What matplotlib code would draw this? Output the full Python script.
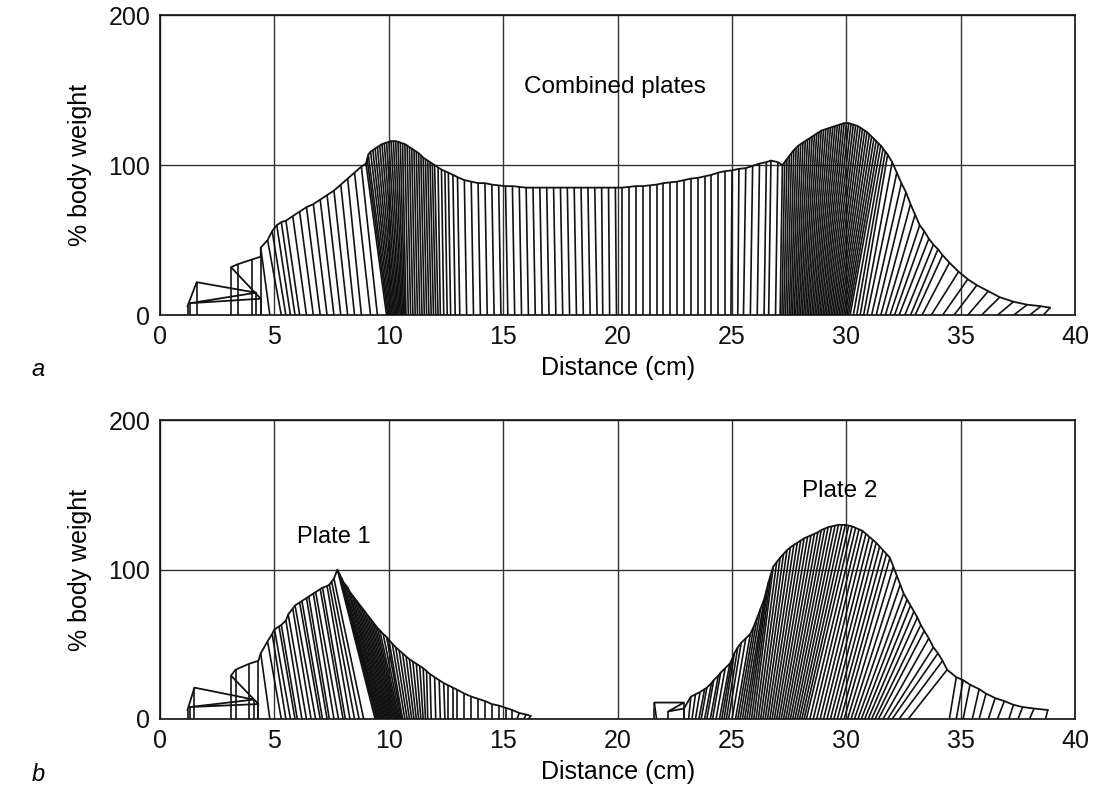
import matplotlib
matplotlib.use('Agg')
import matplotlib.pyplot as plt
from matplotlib.collections import LineCollection

plt.rcParams['font.family'] = ['Liberation Sans', 'DejaVu Sans']

# each force vector: base at centre of pressure (x, 0), tip at (tip x, % body weight)

# ---- panel a: combined plates ----
a_tip = [1.2, 1.6, 4.2, 1.3, 4.4, 3.1, 3.4, 4.0, 4.4, 4.4,
         # loading
         4.7, 4.9, 5.1, 5.3, 5.5, 5.8, 6.1, 6.4, 6.7, 7.0, 7.3, 7.6, 7.9, 8.2, 8.5, 8.8,
         # first peak
         9.0, 9.05, 9.1, 9.2, 9.3, 9.4, 9.5, 9.6, 9.7, 9.8,
         9.9, 10.0, 10.1, 10.2, 10.3, 10.4, 10.5, 10.6, 10.7, 10.8,
         10.9, 11.0, 11.1, 11.2, 11.3, 11.4, 11.5, 11.6, 11.7, 11.8,
         11.9, 12.0, 12.15, 12.3, 12.45, 12.6, 12.8, 13.0,
         # mid stance
         13.3, 13.6, 13.9, 14.2, 14.5, 14.8, 15.1, 15.4, 15.7, 16.0,
         16.3, 16.6, 16.9, 17.2, 17.5, 17.8, 18.1, 18.4, 18.7, 19.0,
         19.3, 19.6, 19.9, 20.2, 20.5, 20.8, 21.1, 21.4, 21.7, 22.0,
         22.3, 22.6, 22.9, 23.2, 23.5, 23.8, 24.1, 24.4, 24.7, 25.0,
         25.3, 25.6, 25.9, 26.2, 26.5, 26.7, 27.0,
         # second peak
         27.2, 27.3, 27.4, 27.5, 27.6, 27.7, 27.8, 27.9, 28.0, 28.1,
         28.2, 28.3, 28.4, 28.5, 28.6, 28.7, 28.8, 28.9, 29.0, 29.1,
         29.2, 29.3, 29.4, 29.5, 29.6, 29.7, 29.8, 29.9, 30.0, 30.1,
         30.2, 30.3, 30.4, 30.5, 30.6, 30.7, 30.8, 30.9, 31.0, 31.1,
         31.2, 31.3, 31.4, 31.5, 31.6, 31.7, 31.8,
         # push off
         32.0, 32.2, 32.4, 32.6, 32.8, 33.0, 33.2, 33.4, 33.6, 33.8, 34.0,
         34.2, 34.5, 34.9, 35.3, 35.7, 36.2, 36.7, 37.3, 37.9, 38.5, 38.9]
a_force = [6, 22, 15, 8, 11, 32, 34, 37, 39, 45,
           50, 56, 60, 62, 63, 66, 69, 72, 74, 77, 80, 83, 87, 91, 95, 99,
           101, 104, 107, 109, 110, 111, 112, 113, 114, 114.5,
           115, 115.5, 116, 116, 116, 115.5, 115, 114.5, 114, 113,
           112, 111, 110, 109, 108, 106.5, 105, 104, 103, 102,
           101, 100, 98.5, 97, 96, 95, 93.5, 92,
           90, 89, 88, 88, 87, 86.5, 86, 86, 85.5, 85,
           85, 85, 85, 85, 85, 85, 85, 85, 85, 85,
           85, 85, 85, 85, 85.5, 86, 86, 86.5, 87, 88,
           88.5, 89, 90, 91, 91.5, 92.5, 93.5, 95, 96, 96.5,
           97.5, 98, 99.5, 101, 102, 103, 102,
           100, 102, 104, 106, 108, 110, 111.5, 113, 114, 115,
           116, 117, 118, 119, 120, 121, 122, 123, 123.5, 124,
           124.5, 125, 125.5, 126, 126.5, 127, 127.5, 128, 128, 128,
           127.5, 127, 126.5, 126, 125, 124, 123, 122, 120.5, 119,
           117.5, 116, 114.5, 113, 111, 109, 107,
           102, 95, 88, 82, 74, 67, 60, 56, 51, 47, 44,
           40, 35, 29, 24, 20, 16, 12, 9, 7, 6, 5]
a_base = [1.2, 1.6, 4.2, 1.3, 4.4, 3.1, 3.4, 4.0, 4.4, 4.8,
          5.3, 5.5, 5.7, 5.9, 6.1, 6.4, 6.7, 7.0, 7.3, 7.6, 7.9, 8.2, 8.5, 8.8, 9.2, 9.5,
          9.9, 9.95, 10.0, 10.05, 10.1, 10.15, 10.2, 10.25, 10.3, 10.35,
          10.4, 10.45, 10.5, 10.55, 10.6, 10.65, 10.7, 10.75, 10.85, 10.95,
          11.05, 11.15, 11.25, 11.35, 11.45, 11.55, 11.65, 11.75, 11.85, 11.95,
          12.05, 12.15, 12.25, 12.4, 12.55, 12.7, 12.9, 13.1,
          13.4, 13.7, 14.0, 14.3, 14.6, 14.9, 15.2, 15.5, 15.8, 16.1,
          16.4, 16.7, 17.0, 17.3, 17.6, 17.9, 18.2, 18.5, 18.8, 19.1,
          19.35, 19.65, 19.95, 20.2, 20.5, 20.8, 21.1, 21.4, 21.7, 22.0,
          22.3, 22.6, 22.9, 23.2, 23.5, 23.8, 24.1, 24.4, 24.7, 24.95,
          25.25, 25.5, 25.8, 26.1, 26.4, 26.6, 26.9,
          27.1, 27.18, 27.26, 27.34, 27.42, 27.5, 27.57, 27.64, 27.71, 27.78,
          27.85, 27.92, 27.99, 28.06, 28.13, 28.2, 28.27, 28.34, 28.41, 28.48,
          28.55, 28.62, 28.69, 28.76, 28.83, 28.9, 28.97, 29.04, 29.11, 29.18,
          29.25, 29.32, 29.39, 29.46, 29.53, 29.6, 29.67, 29.74, 29.81, 29.88,
          29.95, 30.02, 30.09, 30.16, 30.3, 30.45, 30.6,
          30.75, 30.9, 31.1, 31.3, 31.5, 31.7, 31.9, 32.1, 32.3, 32.55, 32.8,
          33.0, 33.3, 33.7, 34.2, 34.7, 35.3, 35.9, 36.6, 37.3, 38.0, 38.6]

# ---- panel b, plate 1 ----
p1_tip = [1.2, 1.5, 4.1, 1.3, 4.3, 3.1, 3.3, 3.9, 4.3, 4.4,
          4.7, 4.9, 5.0, 5.2, 5.3, 5.5, 5.6, 5.8, 5.9, 6.1,
          6.2, 6.4, 6.5, 6.7, 6.8, 7.0, 7.1, 7.3, 7.4, 7.5, 7.6,
          7.75, 7.8, 7.85, 7.9, 7.95, 8.0, 8.1, 8.2, 8.3, 8.4,
          8.5, 8.6, 8.7, 8.8, 8.9, 9.0, 9.1, 9.2, 9.3, 9.4,
          9.5, 9.6, 9.75, 9.9, 10.0, 10.15, 10.3, 10.45, 10.6, 10.75,
          10.9, 11.05, 11.2, 11.35, 11.5, 11.65, 11.8,
          12.0, 12.2, 12.4, 12.6, 12.8, 13.0, 13.3, 13.6, 13.9, 14.2,
          14.5, 14.8, 15.1, 15.4, 15.7, 16.0, 16.2]
p1_force = [6, 21, 13, 8, 10, 29, 33, 37, 39, 44,
            52, 57, 60, 62, 63, 66, 70, 74, 76, 78,
            79, 81, 82, 84, 85, 87, 88, 89, 90, 92, 94,
            100, 98, 97, 95, 94, 92, 90, 88, 85, 83,
            81, 79, 77, 75, 73, 71, 69, 67, 65, 63,
            61, 59.5, 57, 55, 53, 50.5, 48, 46, 44, 42,
            40, 38.5, 37, 35.5, 34, 32, 30,
            28, 26, 24, 22.5, 21, 19.5, 17, 15, 13.5, 12,
            10, 9, 7.5, 6, 4, 3, 2]
p1_base = [1.2, 1.5, 4.1, 1.3, 4.3, 3.1, 3.3, 3.9, 4.3, 4.8,
           5.3, 5.5, 5.7, 5.9, 6.0, 6.2, 6.4, 6.6, 6.8, 7.0,
           7.1, 7.3, 7.4, 7.6, 7.8, 8.0, 8.1, 8.3, 8.5, 8.7, 8.9,
           9.4, 9.45, 9.5, 9.55, 9.6, 9.65, 9.7, 9.75, 9.8, 9.85,
           9.9, 9.95, 10.0, 10.05, 10.1, 10.15, 10.2, 10.25, 10.3, 10.35,
           10.4, 10.45, 10.5, 10.55, 10.6, 10.7, 10.8, 10.9, 11.0, 11.1,
           11.2, 11.3, 11.4, 11.5, 11.6, 11.7, 11.85,
           12.05, 12.25, 12.45, 12.6, 12.8, 13.0, 13.3, 13.6, 13.9, 14.2,
           14.5, 14.8, 15.1, 15.4, 15.6, 15.9, 16.1]

# ---- panel b, plate 2 ----
p2_tip = [21.6, 21.6, 22.9, 22.2, 22.9,
          23.2, 23.4, 23.6, 23.8, 23.9, 24.1, 24.2, 24.4, 24.5, 24.7,
          24.9, 25.0, 25.1, 25.25, 25.4, 25.6, 25.8, 25.95, 26.1, 26.25,
          26.4, 26.5, 26.6, 26.7, 26.8,
          26.95, 27.1, 27.25, 27.4, 27.55, 27.7, 27.85, 28.0, 28.15, 28.3,
          28.45, 28.6, 28.75, 28.9, 29.05, 29.2, 29.35, 29.5, 29.65, 29.8,
          29.95, 30.1, 30.25, 30.4, 30.55, 30.7, 30.85, 31.0, 31.15, 31.3,
          31.45, 31.6, 31.75, 31.9,
          32.05, 32.2, 32.35, 32.5, 32.65, 32.8, 32.95, 33.1, 33.25, 33.4,
          33.6, 33.8, 34.0, 34.2, 34.4, 34.8, 35.1, 35.4, 35.8, 36.1,
          36.5, 36.9, 37.3, 37.7, 38.2, 38.8]
p2_force = [7, 11, 11, 5, 7,
            15, 16.5, 18, 20, 21, 24, 26, 29, 31, 34,
            37, 40, 44, 48, 51, 54, 57, 62, 68, 74,
            80, 86, 92, 97, 102,
            105, 108, 110.5, 113, 115, 116.5, 118, 119.5, 121, 122,
            123, 124, 125, 126.5, 127.5, 128.5, 129, 129.5, 130, 130,
            130, 129.5, 129, 128, 127, 126, 124, 122, 120, 118,
            115.5, 113, 110.5, 108,
            102, 96, 90, 84, 80, 76, 72, 68, 63, 59,
            54, 48, 44, 39, 33, 28, 26, 23, 20, 17,
            14, 12, 9.5, 8, 7, 6]
p2_base = [21.6, 21.7, 22.9, 22.2, 22.9,
           23.1, 23.25, 23.4, 23.55, 23.65, 23.8, 23.9, 24.05, 24.15, 24.3,
           24.45, 24.55, 24.65, 24.75, 24.85, 25.0, 25.15, 25.25, 25.35, 25.45,
           25.55, 25.65, 25.75, 25.85, 25.95,
           26.05, 26.15, 26.25, 26.35, 26.45, 26.55, 26.65, 26.75, 26.85, 26.95,
           27.05, 27.15, 27.25, 27.35, 27.45, 27.55, 27.65, 27.75, 27.85, 27.95,
           28.05, 28.15, 28.25, 28.4, 28.55, 28.7, 28.85, 29.0, 29.15, 29.3,
           29.45, 29.6, 29.75, 29.9,
           30.05, 30.2, 30.35, 30.5, 30.65, 30.8, 30.95, 31.1, 31.25, 31.4,
           31.6, 31.8, 32.0, 32.3, 32.7, 34.5, 34.8, 35.1, 35.5, 35.8,
           36.2, 36.6, 37.1, 37.5, 38.0, 38.7]

x_ticks = [0, 5, 10, 15, 20, 25, 30, 35, 40]
y_ticks = [0, 100, 200]

INK = '#121212'


def butterfly(ax, tips, forces, bases):
    assert len(tips) == len(forces) == len(bases)
    segs = [[(b, 0), (t, f)] for t, f, b in zip(tips, forces, bases)]
    ax.add_collection(LineCollection(segs, colors=INK, linewidths=1.2, zorder=3))
    ax.plot(tips, forces, color=INK, lw=1.3, zorder=4)


def style(ax):
    ax.set_xlim(0, 40)
    ax.set_ylim(0, 200)
    ax.set_xticks(x_ticks)
    ax.set_yticks(y_ticks)
    ax.tick_params(length=0, labelsize=18, pad=7, colors='#111111')
    ax.grid(True, color='#333333', lw=1.0, zorder=1)
    ax.set_axisbelow(True)
    for s in ax.spines.values():
        s.set_color('#111111')
        s.set_linewidth(1.2)
    ax.set_xlabel('Distance (cm)', fontsize=18, labelpad=5)
    ax.set_ylabel('% body weight', fontsize=18, labelpad=12)


fig = plt.figure(figsize=(11, 7.9), dpi=100)
ax1 = fig.add_axes([0.1455, 0.601, 0.832, 0.380])
ax2 = fig.add_axes([0.1455, 0.0899, 0.832, 0.378])

butterfly(ax1, a_tip, a_force, a_base)
style(ax1)
ax1.text(19.9, 152, 'Combined plates', fontsize=17.5, ha='center', va='center')

butterfly(ax2, p1_tip, p1_force, p1_base)
butterfly(ax2, p2_tip, p2_force, p2_base)
style(ax2)
ax2.text(7.6, 122, 'Plate 1', fontsize=17, ha='center', va='center')
ax2.text(29.7, 153, 'Plate 2', fontsize=17.5, ha='center', va='center')

fig.text(0.035, 0.532, 'a', fontsize=17, style='italic', ha='center', va='center')
fig.text(0.035, 0.019, 'b', fontsize=17, style='italic', ha='center', va='center')

fig.savefig('out.png', dpi=100)
